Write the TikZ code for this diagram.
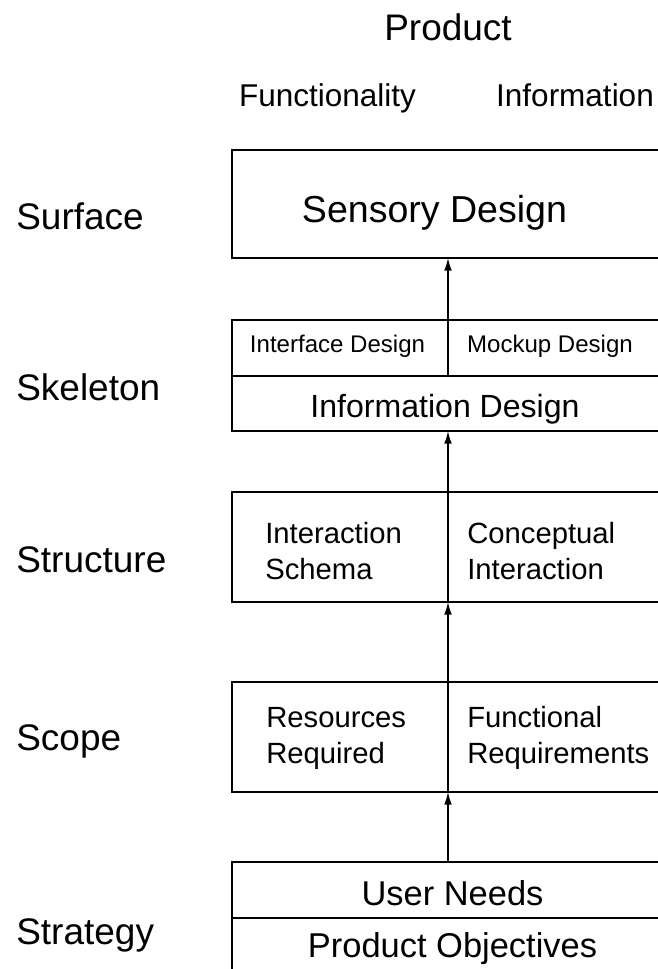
\documentclass[tikz,border=0pt]{standalone}
\usepackage{fontspec}
\setmainfont{Liberation Sans}
\usetikzlibrary{arrows.meta}

\begin{document}
\begin{tikzpicture}[x=0.025cm, y=-0.025cm,
    layer/.style={draw, line width=1.1pt, minimum width=10.8cm, inner sep=0pt, outer sep=0pt},
    plane/.style={anchor=base west, font=\fontsize{26.3}{31}\selectfont},
    head/.style={anchor=base, font=\fontsize{22.4}{27}\selectfont},
    cell/.style={anchor=base west, align=left, inner sep=0pt, font=\fontsize{20.8}{25.6}\selectfont},
    small/.style={anchor=base, inner sep=0pt, font=\fontsize{17.1}{20}\selectfont},
    upward/.style={-{Latex[length=9pt, width=5.5pt]}, line width=1.1pt},
]

\useasboundingbox (0,0) rectangle (658,969);
\clip (0,0) rectangle (658,969);

% headings
\node[anchor=base, font=\fontsize{26.3}{31}\selectfont] (product) at (448,40) {Product};
\node[head] (func) at (327.5,106) {Functionality};
\node[head] (info) at (575,106) {Information};

% the five planes
\foreach \plane/\y in {Surface/229, Skeleton/400, Structure/572, Scope/750, Strategy/944} {
    \node[plane, inner sep=0pt] (\plane) at (16,\y) {\plane};
}

% boxes, top to bottom
\node[layer, minimum height=2.7cm] (surface) at (448,204) {};
\node[layer, minimum height=1.4cm] (skeltop) at (448,348) {};
\node[layer, minimum height=1.375cm] (skelbot) at (448,403.5) {};
\node[layer, minimum height=2.75cm] (structure) at (448,547) {};
\node[layer, minimum height=2.75cm] (scope) at (448,737) {};
\node[layer, minimum height=1.4cm] (strattop) at (448,890) {};
\node[layer, minimum height=1.4cm] (stratbot) at (448,946) {};

% split lines
\draw[line width=1.1pt] (skeltop.north) -- (skeltop.south);
\draw[line width=1.1pt] (structure.north) -- (structure.south);
\draw[line width=1.1pt] (scope.north) -- (scope.south);

% box texts (two-line cells sit on their last baseline)
\node[anchor=base, inner sep=0pt, font=\fontsize{26.7}{31}\selectfont] (sensory) at (434.5,222) {Sensory Design};
\node[small] (iface) at (337.5,352) {Interface Design};
\node[small] (mockup) at (550,352) {Mockup Design};
\node[anchor=base, inner sep=0pt, font=\fontsize{22.8}{27}\selectfont] (infodes) at (445,417) {Information Design};
\node[cell] (schema) at (265,579) {Interaction\\Schema};
\node[cell] (concept) at (467,579) {Conceptual\\Interaction};
\node[cell] (resources) at (266,763) {Resources\\Required};
\node[cell] (funcreq) at (467,763) {Functional\\Requirements};
\node[anchor=base, inner sep=0pt, font=\fontsize{24.5}{29}\selectfont] (needs) at (452.5,905) {User Needs};
\node[anchor=base, inner sep=0pt, font=\fontsize{24.5}{29}\selectfont] (objectives) at (452.5,957) {Product Objectives};

% arrows between the planes
\foreach \from/\to in {skeltop/surface, structure/skelbot, scope/structure, strattop/scope} {
    \draw[upward] (\from.north) -- (\to.south);
}

\end{tikzpicture}
\end{document}
